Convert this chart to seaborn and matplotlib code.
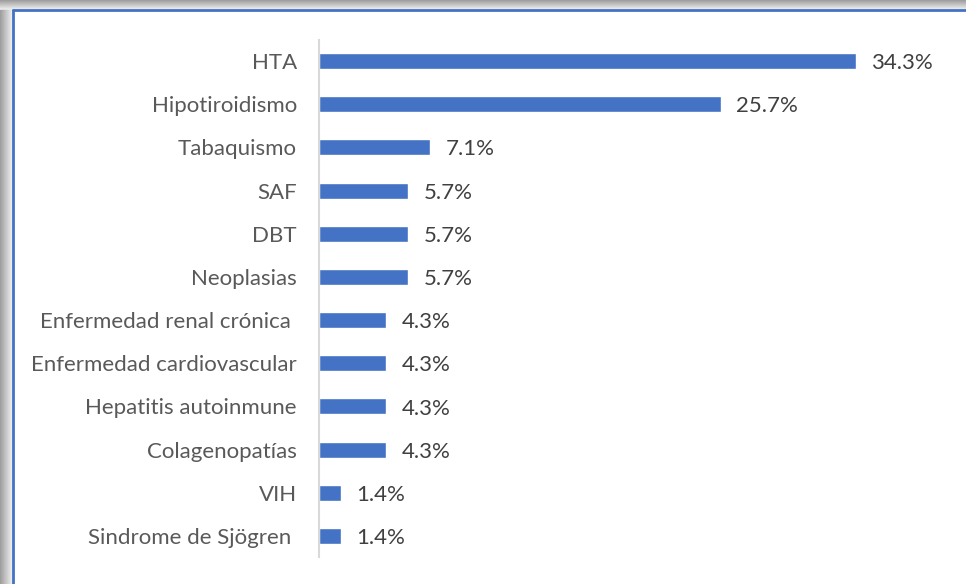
import matplotlib
matplotlib.use("Agg")
import matplotlib.pyplot as plt
import matplotlib.patches as mpatches
import numpy as np
import pandas as pd
import seaborn as sns

categories = ["HTA", "Hipotiroidismo", "Tabaquismo", "SAF", "DBT", "Neoplasias",
              "Enfermedad renal crónica ", "Enfermedad cardiovascular",
              "Hepatitis autoinmune", "Colagenopatías", "VIH", "Sindrome de Sjögren "]
values = [34.3, 25.7, 7.1, 5.7, 5.7, 5.7, 4.3, 4.3, 4.3, 4.3, 1.4, 1.4]

df = pd.DataFrame({"cat": categories, "pct": values})

sns.set_style("white")
plt.rcParams["font.family"] = ["Lato", "DejaVu Sans"]

W, H = 966, 584
fig = plt.figure(figsize=(W / 100, H / 100), dpi=100)

# shadow and border of the chart box
for i in range(10):
    g = 0.62 + 0.035 * i
    fig.patches.append(mpatches.Rectangle((0, 1 - (i + 1) / H), 1, 1 / H + 0.0001,
                                          transform=fig.transFigure, color=str(min(g, 1)), zorder=-5))
for i in range(13):
    g = 0.62 + 0.027 * i
    fig.patches.append(mpatches.Rectangle((i / W, 0), 1 / W + 0.0001, 1 - 10 / H,
                                          transform=fig.transFigure, color=str(min(g, 1)), zorder=-5))
fig.patches.append(mpatches.Rectangle((13 / W, 0), 1 - 13 / W, 1 - 10 / H,
                                      transform=fig.transFigure, facecolor="white",
                                      edgecolor="none", zorder=-5))
fig.lines.append(plt.Line2D([13 / W, 13 / W], [0, 1 - 10 / H], transform=fig.transFigure,
                            color="#4472C4", lw=2, zorder=-4))
fig.lines.append(plt.Line2D([13 / W, 1], [1 - 10 / H, 1 - 10 / H], transform=fig.transFigure,
                            color="#4472C4", lw=2, zorder=-4))

ax = fig.add_axes([319 / W, 1 - 557 / H, 626 / W, 517 / H])
ax.set_zorder(5)
ax.set_facecolor("none")
sns.barplot(data=df, x="pct", y="cat", orient="h", color="#4472C4", saturation=1,
            width=0.37, ax=ax)

ax.set_xlim(0, 40)
ax.set_ylim(11.486, -0.486)
ax.set_xlabel("")
ax.set_ylabel("")
ax.set_xticks([])
for s in ["top", "right", "bottom"]:
    ax.spines[s].set_visible(False)
ax.spines["left"].set_color("#D9D9D9")
ax.spines["left"].set_linewidth(1.5)
ax.tick_params(axis="y", length=0, pad=16, labelsize=16, labelcolor="#595959")

for i, v in enumerate(values):
    ax.annotate(f"{v:.1f}%", (v, i), xytext=(11, -1.5), textcoords="offset points",
                va="center", ha="left", fontsize=16, color="#404040")

fig.savefig("out.png", dpi=100)
